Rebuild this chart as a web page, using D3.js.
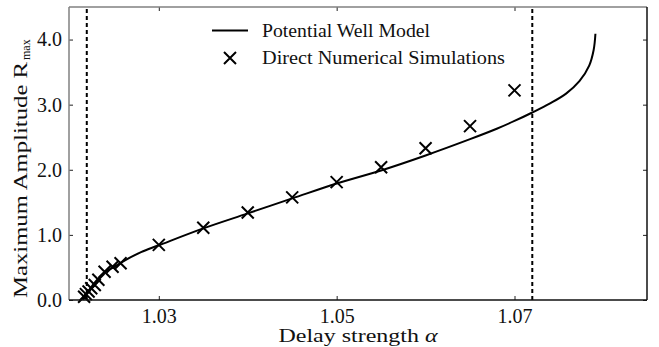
<!DOCTYPE html>
<html>
<head>
<meta charset="utf-8">
<script src="https://cdn.jsdelivr.net/npm/d3@7"></script>
<style>
	body { margin: 0; background: #fff; }
	svg { display: block; }
	text { font-family: 'Liberation Serif', 'Times New Roman', serif; fill: #111; }
</style>
</head>
<body>
<div id="chart"></div>
<script>
// model curve (potential well)
var alphaCurve = [1.0215, 1.0218, 1.0223, 1.0230, 1.0240, 1.0250, 1.0260, 1.0280, 1.0300,
	1.0350, 1.0400, 1.0450, 1.0500, 1.0550, 1.0600, 1.0650, 1.0680, 1.0700, 1.0720,
	1.0740, 1.0758, 1.0773, 1.0784, 1.0789, 1.0791]
var rCurve = [0.00, 0.08, 0.18, 0.30, 0.43, 0.51, 0.595, 0.735, 0.84,
	1.10, 1.33, 1.56, 1.79, 1.99, 2.22, 2.47, 2.63, 2.75, 2.88,
	3.02, 3.17, 3.36, 3.60, 3.84, 4.09]

// direct numerical simulations
var alphaSim = [1.0216, 1.0218, 1.0221, 1.0224, 1.0228, 1.0232, 1.0239, 1.0248, 1.0257,
	1.030, 1.035, 1.040, 1.045, 1.050, 1.055, 1.060, 1.065, 1.070]
var rSim = [0.05, 0.09, 0.13, 0.18, 0.23, 0.31, 0.435, 0.51, 0.565,
	0.846, 1.11, 1.345, 1.576, 1.81, 2.04, 2.33, 2.67, 3.22]

var dashedAlpha = [1.0219, 1.0720]
var xTicks = [1.03, 1.05, 1.07]
var yTicks = [0, 1, 2, 3, 4]

var width = 659, height = 347
var margin = { top: 7, left: 69, right: 12, bottom: 47 }
var serif = "'Liberation Serif', 'Times New Roman', serif"

var svg = d3.select('#chart').append('svg')
	.attr('width', width)
	.attr('height', height)

var xScale = d3.scaleLinear()
	.domain([1.0199, 1.0849])
	.range([margin.left, width - margin.right])

var yScale = d3.scaleLinear()
	.domain([0, 4.5])
	.range([height - margin.bottom, margin.top])

var x0 = xScale.range()[0], x1 = xScale.range()[1]
var y0 = yScale.range()[0], y1 = yScale.range()[1]

// dashed vertical lines
svg.append('g').selectAll('line')
	.data(dashedAlpha)
	.enter().append('line')
	.attr('x1', function(d) { return xScale(d) })
	.attr('x2', function(d) { return xScale(d) })
	.attr('y1', y0)
	.attr('y2', y1)
	.attr('stroke', '#000')
	.attr('stroke-width', 2)
	.attr('stroke-dasharray', '4,3')

// curve
var curveData = alphaCurve.map(function(a, i) { return [a, rCurve[i]] })
var line = d3.line()
	.x(function(d) { return xScale(d[0]) })
	.y(function(d) { return yScale(d[1]) })
	.curve(d3.curveCatmullRom.alpha(0.5))

svg.append('path')
	.datum(curveData)
	.attr('d', line)
	.attr('fill', 'none')
	.attr('stroke', '#000')
	.attr('stroke-width', 2)

// crosses
var s = 6
var crossPath = 'M' + -s + ',' + -s + 'L' + s + ',' + s + 'M' + -s + ',' + s + 'L' + s + ',' + -s
svg.append('g').selectAll('path')
	.data(alphaSim.map(function(a, i) { return [a, rSim[i]] }))
	.enter().append('path')
	.attr('transform', function(d) {
		return 'translate(' + xScale(d[0]) + ',' + yScale(d[1]) + ')'
	})
	.attr('d', crossPath)
	.attr('stroke', '#000')
	.attr('stroke-width', 2)
	.attr('fill', 'none')

// axes, ticks pointing inward
svg.append('g')
	.attr('transform', 'translate(0,' + y0 + ')')
	.call(d3.axisBottom(xScale).tickValues(xTicks).tickSize(-4).tickPadding(9).tickFormat(d3.format('.2f')))
svg.append('g')
	.attr('transform', 'translate(0,' + y1 + ')')
	.call(d3.axisTop(xScale).tickValues(xTicks).tickSize(-4).tickFormat(''))
svg.append('g')
	.attr('transform', 'translate(' + x0 + ',0)')
	.call(d3.axisLeft(yScale).tickValues(yTicks).tickSize(-4).tickPadding(7).tickFormat(d3.format('.1f')))
svg.append('g')
	.attr('transform', 'translate(' + x1 + ',0)')
	.call(d3.axisRight(yScale).tickValues(yTicks).tickSize(-4).tickFormat(''))

svg.selectAll('.domain').remove()
svg.selectAll('g').attr('font-family', serif)
svg.selectAll('.tick line').attr('stroke', '#222')
svg.selectAll('.tick text')
	.style('font-family', serif)
	.style('font-size', '20px')
	.attr('fill', '#111')

// frame: top/left grey, bottom/right black
svg.append('line').attr('x1', x0).attr('x2', x1).attr('y1', y1).attr('y2', y1)
	.attr('stroke', '#808080').attr('stroke-width', 1.5)
svg.append('line').attr('x1', x0).attr('x2', x0).attr('y1', y0).attr('y2', y1)
	.attr('stroke', '#808080').attr('stroke-width', 1.5)
svg.append('line').attr('x1', x0).attr('x2', x1).attr('y1', y0).attr('y2', y0)
	.attr('stroke', '#111').attr('stroke-width', 1.5)
svg.append('line').attr('x1', x1).attr('x2', x1).attr('y1', y0).attr('y2', y1)
	.attr('stroke', '#111').attr('stroke-width', 1.5)

// axis labels (stretched a bit to match the wider original face)
var xl = svg.append('text')
	.attr('x', (x0 + x1) / 2)
	.attr('y', 342)
	.attr('text-anchor', 'middle')
	.attr('textLength', 159)
	.attr('lengthAdjust', 'spacingAndGlyphs')
	.style('font-size', '19px')
xl.append('tspan').text('Delay strength ')
xl.append('tspan').style('font-style', 'italic').text('α')

var yl = svg.append('g')
	.attr('transform', 'translate(27,298) rotate(-90)')
yl.append('text')
	.attr('x', 0).attr('y', 0)
	.attr('textLength', 236)
	.attr('lengthAdjust', 'spacingAndGlyphs')
	.style('font-size', '19px')
	.text('Maximum Amplitude R')
yl.append('text')
	.attr('x', 238).attr('y', 3)
	.style('font-size', '12px')
	.text('max')

// legend
var legend = svg.append('g')
legend.append('line')
	.attr('x1', 212).attr('x2', 248).attr('y1', 30.5).attr('y2', 30.5)
	.attr('stroke', '#000').attr('stroke-width', 2)
legend.append('path')
	.attr('transform', 'translate(230,58)')
	.attr('d', crossPath)
	.attr('stroke', '#000').attr('stroke-width', 2)
legend.append('text').attr('x', 262).attr('y', 36.5)
	.attr('textLength', 168)
	.attr('lengthAdjust', 'spacingAndGlyphs')
	.style('font-size', '18px').text('Potential Well Model')
legend.append('text').attr('x', 262).attr('y', 64)
	.attr('textLength', 243)
	.attr('lengthAdjust', 'spacingAndGlyphs')
	.style('font-size', '18px').text('Direct Numerical Simulations')
</script>
</body>
</html>
